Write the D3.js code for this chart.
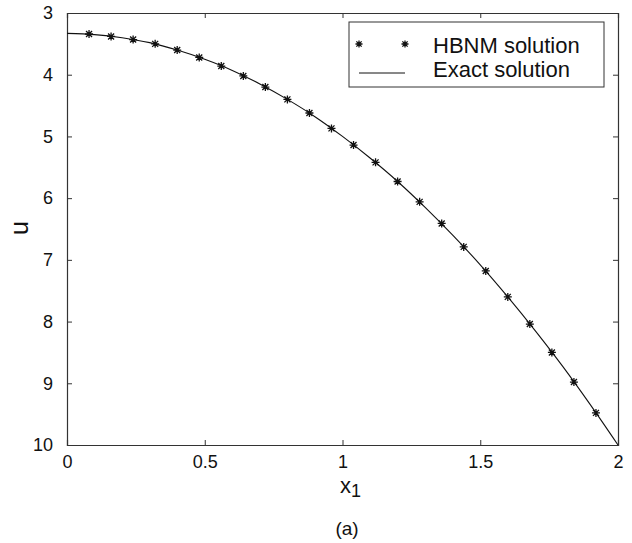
<!DOCTYPE html>
<html>
<head>
<meta charset="utf-8">
<script src="https://cdn.jsdelivr.net/npm/d3@7"></script>
<style>
  body { margin: 0; background: #fff; }
  svg { font-family: "Liberation Sans", Arial, sans-serif; }
</style>
</head>
<body>
<svg id="chart" width="632" height="543"></svg>
<script>
// HBNM solution points (x1, u)
const hbnmX = [0.08, 0.16, 0.24, 0.32, 0.40, 0.48, 0.56, 0.64, 0.72, 0.80, 0.88, 0.96,
               1.04, 1.12, 1.20, 1.28, 1.36, 1.44, 1.52, 1.60, 1.68, 1.76, 1.84, 1.92];
const hbnmU = [3.34, 3.38, 3.43, 3.50, 3.60, 3.72, 3.86, 4.02, 4.20, 4.40, 4.62, 4.87,
               5.14, 5.42, 5.73, 6.06, 6.41, 6.79, 7.18, 7.60, 8.04, 8.50, 8.98, 9.48];

// Exact solution
const exactX = [0, 0.1, 0.2, 0.3, 0.4, 0.5, 0.6, 0.7, 0.8, 0.9, 1.0,
                1.1, 1.2, 1.3, 1.4, 1.5, 1.6, 1.7, 1.8, 1.9, 2.0];
const exactU = [3.33, 3.35, 3.40, 3.48, 3.60, 3.75, 3.93, 4.15, 4.40, 4.68, 5.00,
                5.35, 5.73, 6.15, 6.60, 7.08, 7.60, 8.15, 8.73, 9.35, 10.0];

const xTicks = [0, 0.5, 1, 1.5, 2];
const yTicks = [3, 4, 5, 6, 7, 8, 9, 10];

const svg = d3.select("#chart");
const plotL = 67, plotR = 618, plotT = 13, plotB = 445;

const x = d3.scaleLinear().domain([0, 2]).range([plotL, plotR]);
const y = d3.scaleLinear().domain([3, 10]).range([plotT, plotB]);

const fmt = d => String(d);

// Axes with inward ticks on all four sides
svg.append("g").attr("transform", `translate(0,${plotB})`)
  .call(d3.axisBottom(x).tickValues(xTicks).tickFormat(fmt).tickSize(-5).tickPadding(10));
svg.append("g").attr("transform", `translate(${plotL},0)`)
  .call(d3.axisLeft(y).tickValues(yTicks).tickFormat(fmt).tickSize(-5).tickPadding(14));
svg.append("g").attr("transform", `translate(0,${plotT})`)
  .call(d3.axisTop(x).tickValues(xTicks).tickFormat("").tickSize(-5));
svg.append("g").attr("transform", `translate(${plotR},0)`)
  .call(d3.axisRight(y).tickValues(yTicks).tickFormat("").tickSize(-5));

svg.selectAll(".domain").attr("stroke", "#333").attr("stroke-width", 1.2);
svg.selectAll(".tick line").attr("stroke", "#333");
svg.selectAll(".tick text").attr("font-size", 18).attr("fill", "#111")
  .attr("font-family", "Liberation Sans, Arial, sans-serif");

// Exact solution line
const exactData = exactX.map((d, i) => [d, exactU[i]]);
svg.append("path")
  .datum(exactData)
  .attr("fill", "none")
  .attr("stroke", "#111")
  .attr("stroke-width", 1.1)
  .attr("d", d3.line().x(d => x(d[0])).y(d => y(d[1])).curve(d3.curveMonotoneX));

// Star markers
function star(g, cx, cy, r) {
  const d = `M${cx - r},${cy}L${cx + r},${cy}M${cx},${cy - r}L${cx},${cy + r}` +
    `M${cx - r * 0.75},${cy - r * 0.75}L${cx + r * 0.75},${cy + r * 0.75}` +
    `M${cx - r * 0.75},${cy + r * 0.75}L${cx + r * 0.75},${cy - r * 0.75}`;
  g.append("path").attr("d", d).attr("stroke", "#111").attr("stroke-width", 1.3).attr("fill", "none");
}
const stars = svg.append("g");
hbnmX.forEach((d, i) => star(stars, x(d), y(hbnmU[i]), 4));

// Legend
const lg = svg.append("g");
lg.append("rect").attr("x", 349).attr("y", 22).attr("width", 255).attr("height", 65)
  .attr("fill", "#fff").attr("stroke", "#333").attr("stroke-width", 1);
star(lg, 359, 44, 3.5);
star(lg, 405, 44, 3.5);
lg.append("line").attr("x1", 359).attr("x2", 405).attr("y1", 73).attr("y2", 73)
  .attr("stroke", "#111").attr("stroke-width", 1);
lg.append("text").attr("x", 433).attr("y", 53).attr("font-size", 22).attr("fill", "#111")
  .text("HBNM solution");
lg.append("text").attr("x", 433).attr("y", 77).attr("font-size", 22).attr("fill", "#111")
  .text("Exact solution");

// Axis titles
const xl = svg.append("text").attr("x", 340).attr("y", 493).attr("font-size", 22).attr("fill", "#111");
xl.append("tspan").text("x");
xl.append("tspan").attr("dy", 4).attr("font-size", 18).text("1");

svg.append("text")
  .attr("transform", "translate(28,228) rotate(-90)")
  .attr("text-anchor", "middle")
  .attr("font-size", 25).attr("fill", "#111")
  .text("u");

svg.append("text").attr("x", 347).attr("y", 535).attr("text-anchor", "middle")
  .attr("font-size", 19).attr("fill", "#111").text("(a)");
</script>
</body>
</html>
